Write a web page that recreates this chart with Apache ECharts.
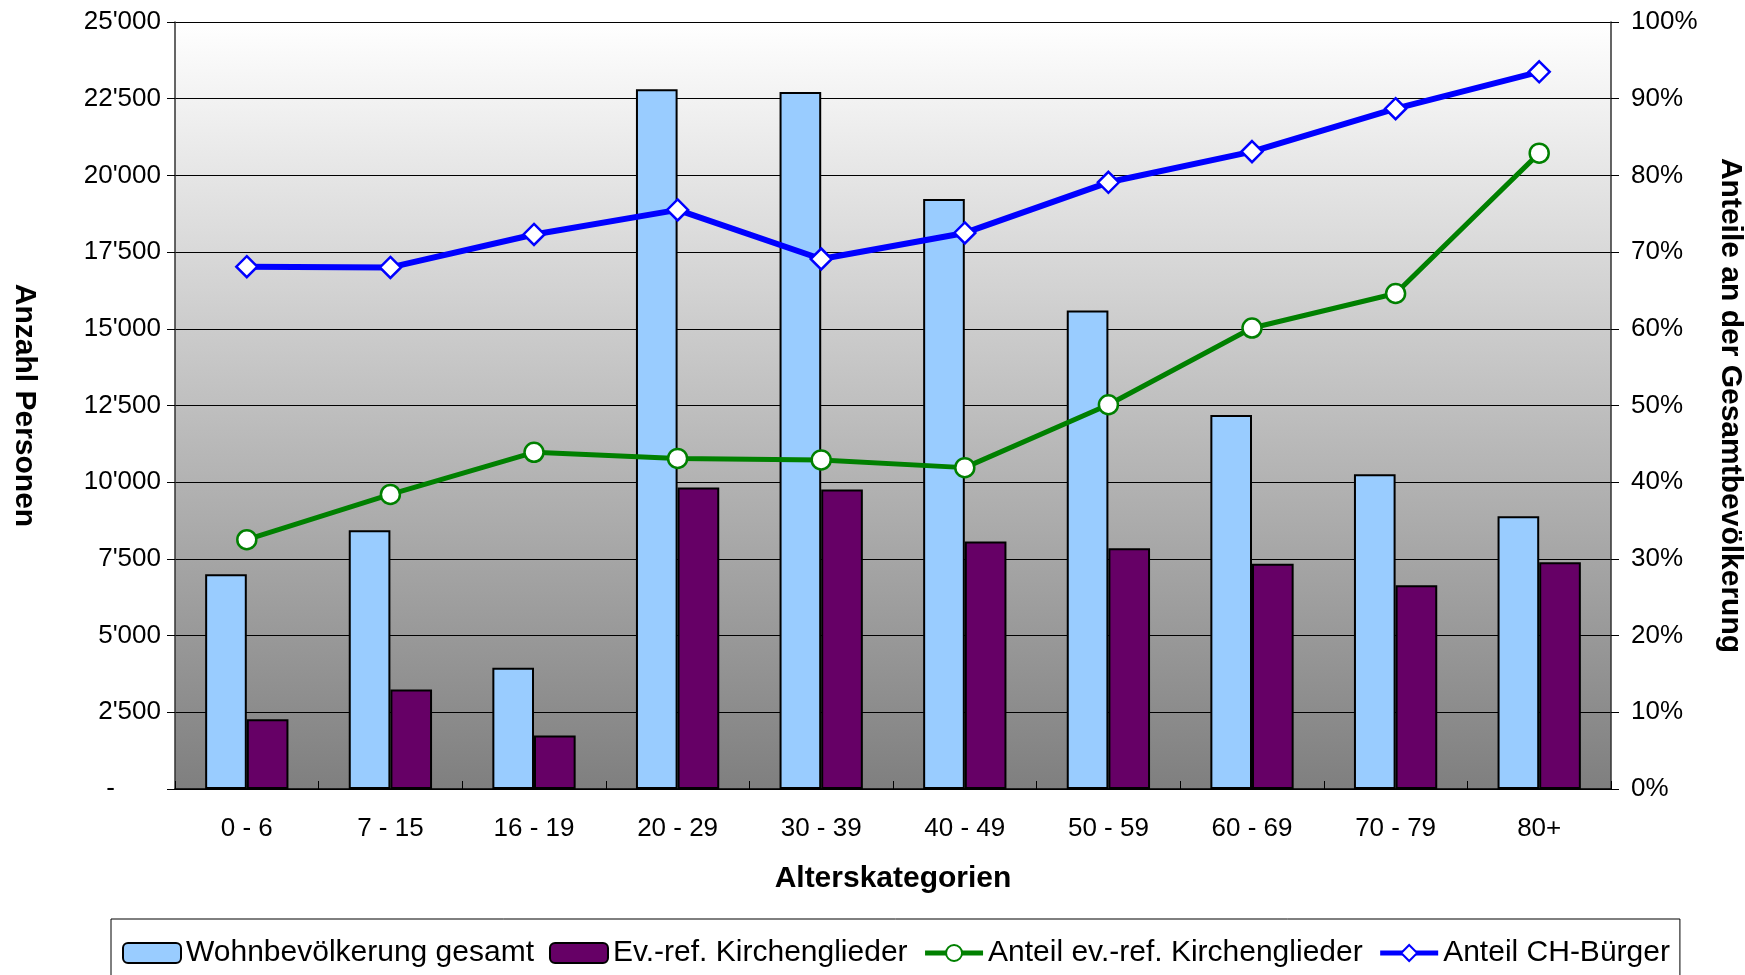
<!DOCTYPE html>
<html>
<head>
<meta charset="utf-8">
<title>Alterskategorien</title>
<script src="https://cdn.jsdelivr.net/npm/echarts/dist/echarts.min.js"></script>
<style>
    html, body { margin: 0; padding: 0; background: #fff; }
    #chart { width: 1745px; height: 975px; }
</style>
</head>
<body>
<div id="chart"></div>
<script>
// Alterskategorien
var categories = ['0 - 6', '7 - 15', '16 - 19', '20 - 29', '30 - 39', '40 - 49', '50 - 59', '60 - 69', '70 - 79', '80+'];
// Anzahl Personen
var wohnbevoelkerung = [7000, 8430, 3950, 22810, 22720, 19230, 15600, 12190, 10260, 8890];
var kirchenglieder = [2270, 3240, 1740, 9830, 9760, 8070, 7850, 7340, 6640, 7390];
// Anteile in %
var anteilKirche = [32.5, 38.4, 43.9, 43.1, 42.9, 41.9, 50.1, 60.1, 64.6, 82.9];
var anteilCH = [68.1, 68.0, 72.3, 75.5, 69.1, 72.5, 79.1, 83.1, 88.7, 93.5];

var font = 'Arial, "Liberation Sans", sans-serif';

var chart = echarts.init(document.getElementById('chart'));

function tausender(v) {
    if (v === 0) return '{d|-}';
    return String(v).replace(/\B(?=(\d{3})+(?!\d))/g, "'");
}

var option = {
    backgroundColor: '#fff',
    textStyle: { fontFamily: font, color: '#000' },
    grid: {
        left: 175,
        right: 134,
        top: 22,
        bottom: 186,
        outerBoundsMode: 'none',
        show: true,
        borderWidth: 0,
        backgroundColor: new echarts.graphic.LinearGradient(0, 0, 0, 1, [
            { offset: 0, color: '#ffffff' },
            { offset: 1, color: '#7f7f7f' }
        ])
    },
    legend: {
        left: 111,
        top: 919,
        padding: [19, 10, 22, 11],
        itemGap: 15,
        itemWidth: 58,
        itemHeight: 20,
        borderColor: '#000',
        borderWidth: 1,
        textStyle: { fontFamily: font, fontSize: 30, color: '#000' },
        data: [
            { name: 'Wohnbevölkerung gesamt' },
            { name: 'Ev.-ref. Kirchenglieder' },
            { name: 'Anteil ev.-ref. Kirchenglieder', lineStyle: { width: 5 }, itemStyle: { borderWidth: 2 } },
            { name: 'Anteil CH-Bürger', lineStyle: { width: 5 }, itemStyle: { borderWidth: 2 } }
        ]
    },
    xAxis: [{
        type: 'category',
        data: categories,
        name: 'Alterskategorien',
        nameLocation: 'middle',
        nameGap: 75,
        nameTextStyle: { fontFamily: font, fontSize: 30, fontWeight: 'bold', color: '#000' },
        axisLine: { lineStyle: { color: '#000', width: 1.5 } },
        axisTick: { length: 9, lineStyle: { color: '#000' } },
        axisLabel: { fontFamily: font, fontSize: 26, color: '#000', margin: 27 }
    }, {
        // nur für die nach innen zeigenden Teilstriche
        type: 'category',
        data: categories,
        position: 'bottom',
        axisLine: { show: false },
        axisTick: { show: true, inside: true, length: 8, lineStyle: { color: '#000' } },
        axisLabel: { show: false }
    }],
    yAxis: [{
        type: 'value',
        min: 0,
        max: 25000,
        interval: 2500,
        name: 'Anzahl Personen',
        nameLocation: 'middle',
        nameRotate: -90,
        nameGap: 136,
        nameTextStyle: { fontFamily: font, fontSize: 30, fontWeight: 'bold', color: '#000' },
        axisLine: { show: true, lineStyle: { color: '#333', width: 1.5 } },
        axisTick: { show: true, length: 8, lineStyle: { color: '#000' } },
        axisLabel: {
            fontFamily: font, fontSize: 26, color: '#000', margin: 14,
            formatter: tausender,
            rich: { d: { fontFamily: font, fontSize: 26, color: '#000', padding: [0, 46, 0, 0] } }
        },
        splitLine: { show: true, lineStyle: { color: '#000', width: 1 } }
    }, {
        type: 'value',
        min: 0,
        max: 100,
        interval: 10,
        position: 'right',
        name: 'Anteile an der Gesamtbevölkerung',
        nameLocation: 'middle',
        nameRotate: -90,
        nameGap: 104,
        nameTextStyle: { fontFamily: font, fontSize: 30, fontWeight: 'bold', color: '#000' },
        axisLine: { show: true, lineStyle: { color: '#333', width: 1.5 } },
        axisTick: { show: true, length: 8, lineStyle: { color: '#000' } },
        axisLabel: { fontFamily: font, fontSize: 26, color: '#000', margin: 20, formatter: '{value}%' },
        splitLine: { show: false }
    }],
    series: [{
        name: 'Wohnbevölkerung gesamt',
        type: 'bar',
        data: wohnbevoelkerung,
        barGap: '0%',
        barCategoryGap: '42%',
        itemStyle: { color: '#99ccff', borderColor: '#000', borderWidth: 2 }
    }, {
        name: 'Ev.-ref. Kirchenglieder',
        type: 'bar',
        data: kirchenglieder,
        itemStyle: { color: '#660066', borderColor: '#000', borderWidth: 2 }
    }, {
        name: 'Anteil ev.-ref. Kirchenglieder',
        type: 'line',
        yAxisIndex: 1,
        data: anteilKirche,
        symbol: 'circle',
        symbolSize: 19,
        lineStyle: { color: '#008000', width: 5 },
        itemStyle: { color: '#fff', borderColor: '#008000', borderWidth: 2.5 },
        z: 5
    }, {
        name: 'Anteil CH-Bürger',
        type: 'line',
        yAxisIndex: 1,
        data: anteilCH,
        symbol: 'diamond',
        symbolSize: 21,
        lineStyle: { color: '#0000ff', width: 6 },
        itemStyle: { color: '#fff', borderColor: '#0000ff', borderWidth: 2.5 },
        z: 6
    }]
};

chart.setOption(option);
</script>
</body>
</html>
